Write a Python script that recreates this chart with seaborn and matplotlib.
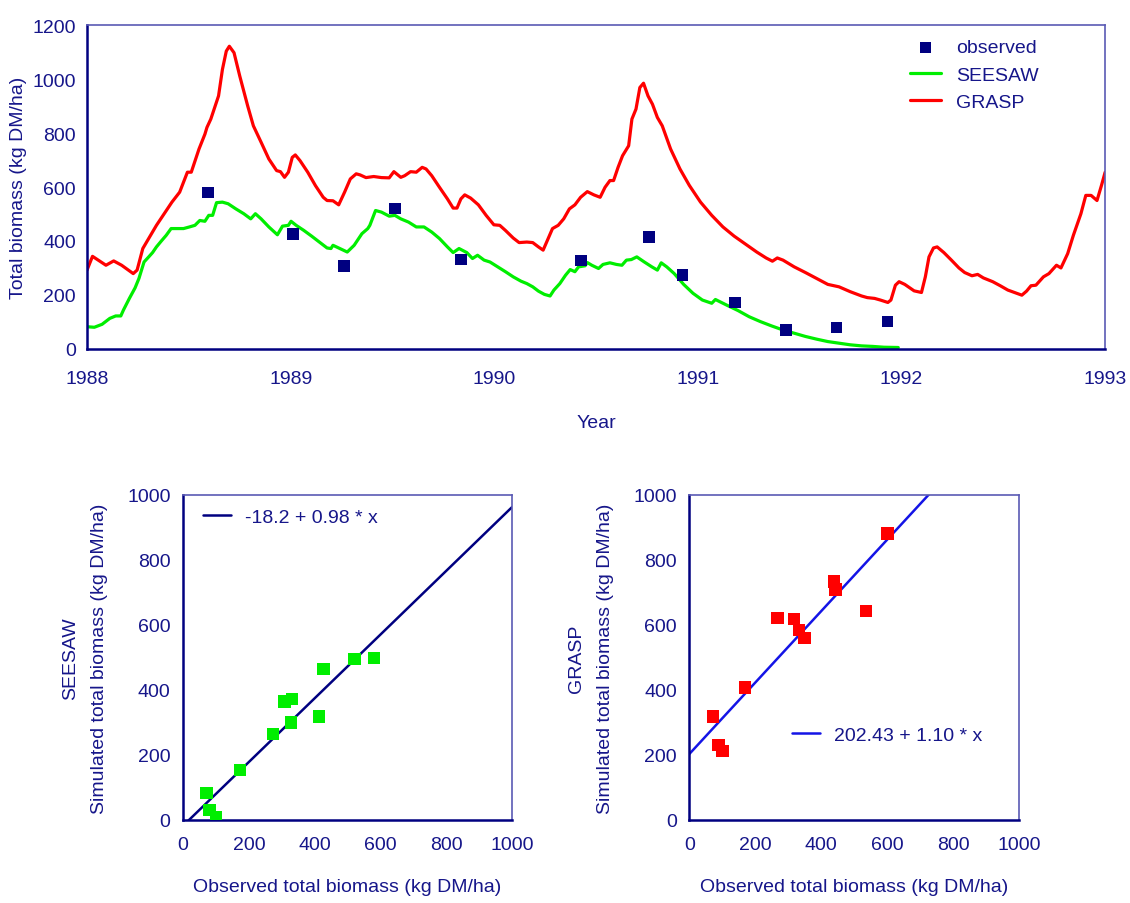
import numpy as np
import pandas as pd
import matplotlib
matplotlib.use("Agg")
import matplotlib.pyplot as plt
from matplotlib.ticker import MultipleLocator
import seaborn as sns

# observed total biomass (kg DM/ha)
obs_year = [1988.594, 1989.013, 1989.263, 1989.512, 1989.838, 1990.427,
            1990.761, 1990.925, 1991.182, 1991.432, 1991.681, 1991.931]
obs_biomass = [580, 426, 308, 521, 331, 328, 414, 273, 172, 69, 79, 101]

# SEESAW simulation
seesaw_year = [1988.0, 1988.036, 1988.074, 1988.112, 1988.141, 1988.166, 1988.179, 1988.208,
               1988.236, 1988.255, 1988.28, 1988.303, 1988.322, 1988.341, 1988.364, 1988.389,
               1988.413, 1988.446, 1988.474, 1988.503, 1988.53, 1988.554, 1988.579, 1988.598,
               1988.617, 1988.636, 1988.665, 1988.693, 1988.731, 1988.77, 1988.804, 1988.827,
               1988.855, 1988.893, 1988.935, 1988.96, 1988.989, 1989.002, 1989.027, 1989.065,
               1989.103, 1989.141, 1989.179, 1989.198, 1989.208, 1989.236, 1989.278, 1989.312,
               1989.35, 1989.379, 1989.389, 1989.417, 1989.446, 1989.484, 1989.512, 1989.541,
               1989.579, 1989.617, 1989.655, 1989.693, 1989.731, 1989.77, 1989.798, 1989.827,
               1989.865, 1989.893, 1989.918, 1989.95, 1989.979, 1990.017, 1990.055, 1990.093,
               1990.131, 1990.16, 1990.189, 1990.217, 1990.246, 1990.274, 1990.293, 1990.322,
               1990.35, 1990.373, 1990.396, 1990.414, 1990.446, 1990.457, 1990.479, 1990.512,
               1990.534, 1990.568, 1990.6, 1990.627, 1990.649, 1990.673, 1990.7, 1990.737,
               1990.774, 1990.801, 1990.82, 1990.847, 1990.884, 1990.93, 1990.976, 1991.022,
               1991.068, 1991.086, 1991.142, 1991.197, 1991.252, 1991.307, 1991.362, 1991.418,
               1991.473, 1991.528, 1991.583, 1991.638, 1991.693, 1991.748, 1991.804, 1991.859,
               1991.914, 1991.984]
seesaw_biomass = [82, 80, 91, 113, 122, 122, 144, 187,
                  226, 261, 322, 341, 357, 378, 399, 421,
                  446, 446, 446, 452, 458, 476, 473, 495,
                  495, 542, 544, 538, 519, 501, 482, 501,
                  482, 452, 423, 455, 458, 473, 458, 439,
                  418, 396, 374, 372, 384, 374, 359, 384,
                  427, 446, 458, 513, 507, 492, 495, 482,
                  470, 452, 452, 433, 409, 378, 357, 372,
                  357, 335, 347, 329, 322, 304, 286, 267,
                  251, 242, 230, 214, 202, 196, 218, 242,
                  273, 294, 286, 304, 308, 320, 310, 298,
                  313, 319, 313, 310, 329, 331, 341, 322,
                  304, 292, 319, 304, 279, 239, 206, 181,
                  169, 183, 162, 142, 119, 101, 85, 70,
                  58, 46, 36, 27, 21, 15, 11, 9,
                  6, 5]

# GRASP simulation
grasp_year = [1988.0, 1988.027, 1988.093, 1988.131, 1988.17, 1988.227, 1988.246, 1988.274,
              1988.341, 1988.417, 1988.455, 1988.493, 1988.512, 1988.55, 1988.579, 1988.589,
              1988.608, 1988.646, 1988.665, 1988.684, 1988.699, 1988.722, 1988.75, 1988.789,
              1988.817, 1988.855, 1988.893, 1988.931, 1988.95, 1988.97, 1988.989, 1989.008,
              1989.023, 1989.046, 1989.084, 1989.122, 1989.16, 1989.179, 1989.208, 1989.236,
              1989.265, 1989.293, 1989.322, 1989.341, 1989.37, 1989.408, 1989.446, 1989.484,
              1989.507, 1989.541, 1989.56, 1989.589, 1989.617, 1989.646, 1989.665, 1989.693,
              1989.731, 1989.77, 1989.798, 1989.817, 1989.836, 1989.855, 1989.884, 1989.922,
              1989.96, 1989.998, 1990.027, 1990.055, 1990.093, 1990.122, 1990.16, 1990.189,
              1990.217, 1990.24, 1990.268, 1990.286, 1990.314, 1990.341, 1990.369, 1990.396,
              1990.424, 1990.457, 1990.489, 1990.52, 1990.544, 1990.568, 1990.586, 1990.608,
              1990.63, 1990.66, 1990.676, 1990.696, 1990.715, 1990.733, 1990.755, 1990.777,
              1990.801, 1990.825, 1990.866, 1990.912, 1990.958, 1991.013, 1991.068, 1991.123,
              1991.178, 1991.234, 1991.289, 1991.335, 1991.366, 1991.39, 1991.418, 1991.473,
              1991.528, 1991.583, 1991.638, 1991.693, 1991.748, 1991.804, 1991.832, 1991.868,
              1991.896, 1991.933, 1991.948, 1991.97, 1991.988, 1992.016, 1992.062, 1992.098,
              1992.117, 1992.135, 1992.157, 1992.175, 1992.208, 1992.245, 1992.282, 1992.31,
              1992.346, 1992.374, 1992.402, 1992.448, 1992.485, 1992.522, 1992.558, 1992.591,
              1992.614, 1992.636, 1992.66, 1992.697, 1992.724, 1992.761, 1992.783, 1992.816,
              1992.844, 1992.881, 1992.905, 1992.931, 1992.96, 1992.982, 1993.0]
grasp_biomass = [292, 343, 310, 326, 310, 279, 292, 372,
                 458, 544, 581, 655, 655, 741, 796, 821,
                 852, 938, 1036, 1104, 1122, 1098, 1012, 901,
                 827, 766, 704, 661, 657, 636, 655, 710,
                 719, 698, 655, 605, 562, 550, 549, 534,
                 581, 630, 649, 645, 635, 639, 635, 634,
                 657, 636, 642, 657, 655, 673, 667, 642,
                 599, 556, 522, 522, 556, 571, 559, 534,
                 495, 460, 458, 439, 411, 394, 396, 394,
                 378, 366, 415, 446, 458, 482, 519, 534,
                 562, 583, 571, 562, 599, 624, 624, 673,
                 716, 753, 852, 889, 969, 985, 938, 907,
                 858, 827, 741, 667, 606, 544, 495, 452,
                 418, 388, 359, 337, 325, 337, 329, 304,
                 283, 261, 239, 230, 212, 196, 190, 187,
                 181, 172, 181, 236, 249, 239, 215, 209,
                 267, 341, 374, 378, 357, 329, 300, 283,
                 271, 276, 263, 249, 234, 218, 208, 199,
                 214, 234, 236, 267, 279, 310, 300, 353,
                 421, 501, 569, 569, 550, 606, 655]

# observed vs simulated
seesaw_obs = [71, 80, 101, 173, 274, 309, 332, 329, 414, 427, 521, 581]
seesaw_sim = [83, 31, 9, 153, 264, 364, 371, 299, 318, 464, 495, 498]
grasp_obs = [71, 89, 100, 169, 267, 318, 332, 349, 439, 443, 535, 601]
grasp_sim = [318, 230, 211, 407, 621, 618, 584, 560, 734, 709, 642, 881]

# regression fits (intercept, slope)
seesaw_fit = (-18.2, 0.98)
grasp_fit = (202.43, 1.10)
fit_range = [0, 1000]

navy = "#000080"
text_col = "#16168a"
green = "#00ee00"
red = "#ff0000"
blue = "#1414e6"

sns.set_style("white")
plt.rcParams["font.family"] = ["Liberation Sans", "DejaVu Sans"]
plt.rcParams["text.color"] = text_col
plt.rcParams["axes.labelcolor"] = text_col

FS = 14


def style_axes(ax):
    for s in ["left", "bottom"]:
        ax.spines[s].set_color(navy)
        ax.spines[s].set_linewidth(1.8)
    for s in ["top", "right"]:
        ax.spines[s].set_visible(True)
        ax.spines[s].set_color("#5a5ab4")
        ax.spines[s].set_linewidth(1.2)
    ax.tick_params(which="both", direction="in", color=navy, labelcolor=text_col,
                   top=False, right=False, labelsize=FS)
    ax.tick_params(which="major", length=8, width=1.3)
    ax.tick_params(which="minor", length=5, width=1.1)


fig = plt.figure(figsize=(11.3, 9.04), dpi=100)

# time series
ax = fig.add_axes([0.077, 0.613, 0.901, 0.358])
seesaw_df = pd.DataFrame({"year": seesaw_year, "biomass": seesaw_biomass})
grasp_df = pd.DataFrame({"year": grasp_year, "biomass": grasp_biomass})
obs_df = pd.DataFrame({"year": obs_year, "biomass": obs_biomass})
sns.scatterplot(data=obs_df, x="year", y="biomass", ax=ax, marker="s", s=70,
                color=navy, edgecolor="none", label="observed", zorder=4)
sns.lineplot(data=seesaw_df, x="year", y="biomass", ax=ax, color=green,
             linewidth=2.3, label="SEESAW", estimator=None, sort=False)
sns.lineplot(data=grasp_df, x="year", y="biomass", ax=ax, color=red,
             linewidth=2.3, label="GRASP", estimator=None, sort=False)
ax.set_xlim(1988, 1993)
ax.set_ylim(0, 1200)
ax.xaxis.set_major_locator(MultipleLocator(1))
ax.xaxis.set_minor_locator(MultipleLocator(0.5))
ax.yaxis.set_major_locator(MultipleLocator(200))
ax.yaxis.set_minor_locator(MultipleLocator(100))
ax.xaxis.set_major_formatter(lambda v, p: f"{int(round(v))}")
style_axes(ax)
ax.tick_params(axis="x", pad=15)
ax.tick_params(axis="y", pad=8)
ax.set_xlabel("Year", fontsize=FS, labelpad=20)
ax.set_ylabel("Total biomass (kg DM/ha)", fontsize=FS, labelpad=4)
ax.legend(loc="upper left", bbox_to_anchor=(0.795, 1.0), frameon=False, fontsize=FS,
          handlelength=1.6, handletextpad=0.75, labelspacing=0.5, borderaxespad=0.3)


def scatter_panel(rect, obs, sim, fit, pt_col, line_col, model, leg_loc, leg_anchor):
    a = fig.add_axes(rect)
    df = pd.DataFrame({"obs": obs, "sim": sim})
    fx = np.array(fit_range, dtype=float)
    line_df = pd.DataFrame({"x": fx, "y": fit[0] + fit[1] * fx})
    sns.lineplot(data=line_df, x="x", y="y", ax=a, color=line_col, linewidth=1.8,
                 label=f"{fit[0]:.{2 if abs(fit[0]) > 100 else 1}f} + {fit[1]:.2f} * x")
    sns.scatterplot(data=df, x="obs", y="sim", ax=a, marker="s", s=80, color=pt_col,
                    edgecolor="none", zorder=4, legend=False)
    a.set_xlim(0, 1000)
    a.set_ylim(0, 1000)
    for axis in (a.xaxis, a.yaxis):
        axis.set_major_locator(MultipleLocator(200))
        axis.set_minor_locator(MultipleLocator(100))
    style_axes(a)
    a.tick_params(axis="x", pad=12)
    a.tick_params(axis="y", pad=9)
    a.set_xlabel("Observed total biomass (kg DM/ha)", fontsize=FS, labelpad=18)
    a.set_ylabel(f"{model}\nSimulated total biomass (kg DM/ha)", fontsize=FS, labelpad=14,
                 linespacing=1.9)
    a.legend(loc=leg_loc, bbox_to_anchor=leg_anchor, frameon=False, fontsize=FS,
             handlelength=1.45, handletextpad=0.7, borderaxespad=0.3)
    return a


scatter_panel([0.162, 0.092, 0.291, 0.3595], seesaw_obs, seesaw_sim, seesaw_fit,
              green, navy, "SEESAW", "upper left", (0.02, 1.0))
scatter_panel([0.610, 0.092, 0.292, 0.3595], grasp_obs, grasp_sim, grasp_fit,
              red, blue, "GRASP", "center left", (0.27, 0.26))

fig.savefig("out.png", dpi=100)
